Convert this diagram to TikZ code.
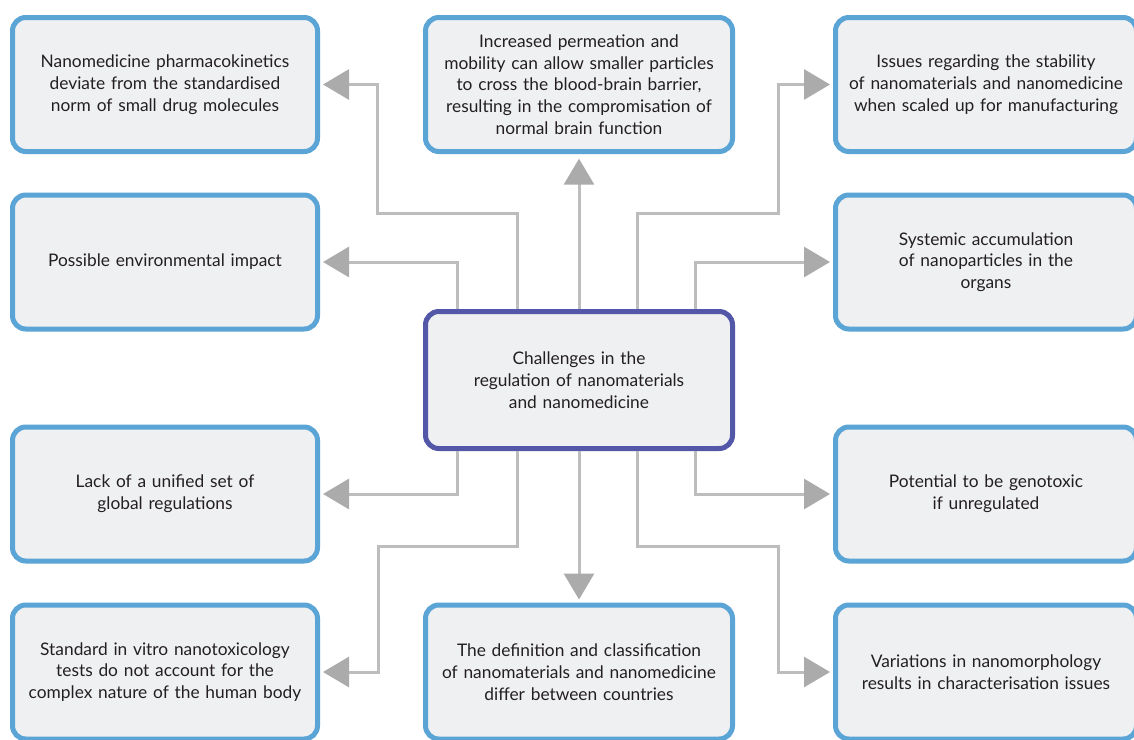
\documentclass[tikz,border=0pt]{standalone}
\usepackage{fontspec}
\setmainfont{Lato}
\usetikzlibrary{arrows.meta,calc}
\definecolor{boxblue}{HTML}{5BA4D6}
\definecolor{boxfill}{HTML}{EFF0F2}
\definecolor{cpurple}{HTML}{5257A8}
\definecolor{lgray}{HTML}{BDBDBD}
\definecolor{hgray}{HTML}{ABABAB}
\definecolor{txt}{HTML}{231F20}
\tikzset{
  box/.style={draw=boxblue, fill=boxfill, line width=3.75pt, rounded corners=10pt,
    minimum height=100.5pt, inner sep=0pt, align=center, text=txt,
    font=\fontsize{13pt}{16.3pt}\selectfont},
  lbox/.style={box, minimum width=228.75pt, text width=220pt},
  cbox/.style={box, minimum width=230.25pt, text width=222pt},
  rbox/.style={box, minimum width=225.75pt, text width=222pt},
  mainbox/.style={box, draw=cpurple, minimum width=230.25pt, minimum height=102.75pt, text width=222pt},
  conn/.style={draw=lgray, line width=2.25pt, -{Triangle[length=19.5pt,width=22.5pt,color=hgray]}},
}
\begin{document}
\begin{tikzpicture}[x=0.75pt,y=-0.75pt]
\fill[white] (0,0) rectangle (1134,739);
\useasboundingbox (0,0) rectangle (1134,739);
\clip (0,0) rectangle (1134,739);

\node[mainbox] (c) at (579,380) {Challenges in the\\regulation of nanomaterials\\and nanomedicine};

\node[lbox] (tl) at (165,84.5) {Nanomedicine pharmacokinetics\\deviate from the standardised\\norm of small drug molecules};
\node[lbox] (ml) at (165,262) {Possible environmental impact};
\node[lbox] (ll) at (165,494) {Lack of a unified set of\\global regulations};
\node[lbox] (bl) at (165,672) {Standard in vitro nanotoxicology\\tests do not account for the\\complex nature of the human body};

\node[cbox] (tc) at (579,84.5) {Increased permeation and\\mobility can allow smaller particles\\to cross the blood-brain barrier,\\resulting in the compromisation of\\normal brain function};
\node[cbox] (bc) at (579,672) {The definition and classification\\of nanomaterials and nanomedicine\\differ between countries};

\node[rbox] (tr) at (986,84.5) {Issues regarding the stability\\of nanomaterials and nanomedicine\\when scaled up for manufacturing};
\node[rbox] (mr) at (986,262) {Systemic accumulation\\of nanoparticles in the\\organs};
\node[rbox] (lr) at (986,494) {Potential to be genotoxic\\if unregulated};
\node[rbox] (br) at (986,672) {Variations in nanomorphology\\results in characterisation issues};

\coordinate (x457) at (457,0);
\coordinate (x517) at (517,0);
\coordinate (x637) at (637,0);
\coordinate (x695) at (695,0);
\coordinate (j1) at (377,213);
\coordinate (j2) at (778,213);
\coordinate (j3) at (378,546);
\coordinate (j4) at (778,546);

\draw[conn, shorten >=2.25pt] (c.north -| x517) |- (j1) |- (tl.east);
\draw[conn, shorten >=2.25pt] (c.north -| x457) |- (ml.east);
\draw[conn, shorten >=3.5pt] (c.north) -- (tc.south);
\draw[conn, shorten >=2.25pt] (c.north -| x637) |- (j2) |- (tr.west);
\draw[conn, shorten >=2.25pt] (c.north -| x695) |- (mr.west);

\draw[conn, shorten >=2.25pt] (c.south -| x457) |- (ll.east);
\draw[conn, shorten >=2.25pt] (c.south -| x517) |- (j3) |- (bl.east);
\draw[conn, shorten >=2.25pt] (c.south) -- (bc.north);
\draw[conn, shorten >=2.25pt] (c.south -| x637) |- (j4) |- (br.west);
\draw[conn, shorten >=2.25pt] (c.south -| x695) |- (lr.west);
\end{tikzpicture}
\end{document}
